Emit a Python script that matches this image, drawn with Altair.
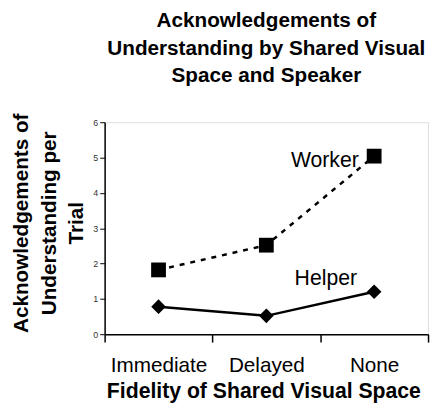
import altair as alt
import pandas as pd

categories = ["Immediate", "Delayed", "None"]
worker = [1.82, 2.52, 5.04]
helper = [0.78, 0.52, 1.2]

rows = []
for i, c in enumerate(categories):
    rows.append({"cat": c, "pos": i + 0.5, "series": "Worker", "value": worker[i]})
    rows.append({"cat": c, "pos": i + 0.5, "series": "Helper", "value": helper[i]})
df = pd.DataFrame(rows)

FONT = "Liberation Sans"
label_expr = ("datum.value == 0.5 ? '%s' : datum.value == 1.5 ? '%s' : datum.value == 2.5 ? '%s' : ''"
              % tuple(categories))

x = alt.X("pos:Q", scale=alt.Scale(domain=[0, 3], nice=False, zero=False),
          axis=alt.Axis(values=[0, 0.5, 1, 1.5, 2, 2.5, 3], labelExpr=label_expr,
                        tickOpacity=alt.ExprRef(expr="datum.value % 1 == 0 ? 1 : 0"),
                        title="Fidelity of Shared Visual Space", grid=False,
                        domainColor="black", tickColor="black", tickSize=8,
                        domainWidth=1.5, tickWidth=1.5,
                        labelFontSize=21, labelFont=FONT, labelColor="black",
                        labelPadding=13, labelFlush=False,
                        titleFontSize=21.5, titleFont=FONT, titleFontWeight="bold",
                        titleColor="black", titleBaseline="alphabetic", titleY=64,
                        titleX=161))
y = alt.Y("value:Q", scale=alt.Scale(domain=[0, 6], nice=False),
          axis=alt.Axis(values=[0, 1, 2, 3, 4, 5, 6], grid=False,
                        domainColor="black", tickColor="black", tickSize=5,
                        domainWidth=1.5, tickWidth=1,
                        labelFontSize=9, labelFont=FONT, labelColor="#333",
                        labelPadding=2,
                        title=["Acknowledgements of", "Understanding per", "Trial"],
                        titleFontSize=21, titleFont=FONT, titleFontWeight="bold",
                        titleColor="black", titleAngle=-90, titleAlign="center",
                        titleBaseline="top", titleX=-95, titleY=102,
                        titleLineHeight=28))

base = alt.Chart(df)

worker_line = base.transform_filter("datum.series == 'Worker'").mark_line(
    color="black", strokeWidth=2.5, strokeDash=[5, 6]).encode(x=x, y=y)
worker_pts = base.transform_filter("datum.series == 'Worker'").mark_point(
    shape="square", filled=True, color="black", size=225, opacity=1).encode(x=x, y=y)
helper_line = base.transform_filter("datum.series == 'Helper'").mark_line(
    color="black", strokeWidth=2.5).encode(x=x, y=y)
helper_pts = base.transform_filter("datum.series == 'Helper'").mark_point(
    shape="diamond", filled=True, color="black", size=220, opacity=1).encode(x=x, y=y)

worker_lbl = base.transform_filter("datum.series == 'Worker' && datum.cat == 'None'").mark_text(
    font=FONT, fontSize=21.5, color="black", dx=-50, dy=11, align="center", baseline="alphabetic"
).encode(x=x, y=y, text="series:N")
helper_lbl = base.transform_filter("datum.series == 'Helper' && datum.cat == 'None'").mark_text(
    font=FONT, fontSize=21.5, color="black", dx=-49, dy=-7, align="center", baseline="alphabetic"
).encode(x=x, y=y, text="series:N")

chart = alt.layer(worker_line, helper_line, worker_pts, helper_pts, worker_lbl, helper_lbl).properties(
    width=328, height=215,
    title=alt.TitleParams(
        text=["Acknowledgements of", "Understanding by Shared Visual", "Space and Speaker"],
        font=FONT, fontSize=21, fontWeight="bold", color="black",
        anchor="middle", lineHeight=28, offset=27),
    autosize=alt.AutoSizeParams(type="none"),
    padding={"left": 98, "top": 113, "right": 3, "bottom": 72},
).configure_view(stroke="#888", strokeWidth=1.5).configure(background="white")

chart.save("out.html", embed_options={"renderer": "svg", "actions": False})
